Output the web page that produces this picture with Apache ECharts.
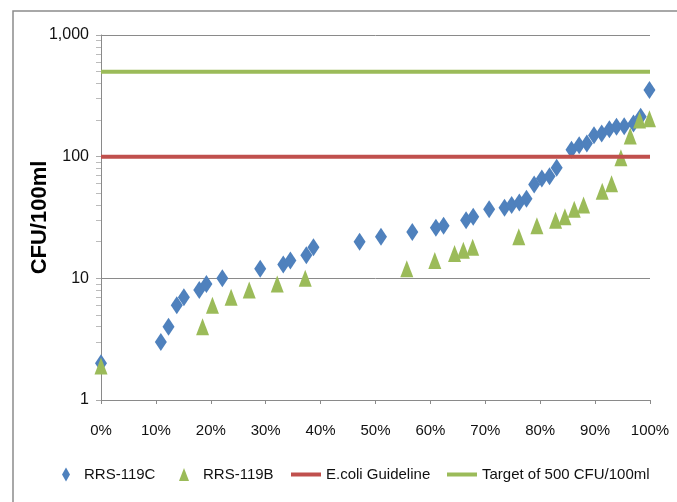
<!DOCTYPE html>
<html><head><meta charset="utf-8">
<script src="https://cdn.jsdelivr.net/npm/echarts@6/dist/echarts.min.js"></script>
<style>html,body{margin:0;padding:0;background:#fff}#c{width:677px;height:502px}</style>
</head><body><div id="c"></div>
<script>
// ---- data ----
const seriesNames = ['RRS-119C', 'RRS-119B', 'E.coli Guideline', 'Target of 500 CFU/100ml'];
const pctC = [0, 10.9, 12.3, 13.8, 15.1, 17.9, 19.2, 22.1, 29.0, 33.2, 34.5, 37.4, 38.7, 47.1, 51.0, 56.7, 61.0, 62.4, 66.5, 67.8, 70.7, 73.5, 74.8, 76.2, 77.5, 78.9, 80.3, 81.7, 83.0, 85.7, 87.1, 88.5, 89.8, 91.2, 92.6, 93.9, 95.3, 97.0, 98.3, 99.9];
const valC = [2, 3, 4, 6, 7, 8, 9, 10, 12, 13, 14, 15.5, 18, 20, 22, 24, 26, 27, 30, 32, 37, 38, 40, 42, 45, 59, 66, 69, 81, 114, 124, 128, 150, 155, 168, 176, 178, 187, 213, 353];
const pctB = [0, 18.5, 20.3, 23.7, 27.0, 32.1, 37.2, 55.7, 60.8, 64.4, 66.0, 67.7, 76.1, 79.4, 82.8, 84.5, 86.2, 87.9, 91.3, 93.0, 94.7, 96.4, 98.1, 99.9];
const valB = [1.9, 4, 6, 7, 8, 9, 10, 12, 14, 16, 17, 18, 22, 27, 30, 32, 37, 40, 52, 60, 98, 148, 200, 205];
const lineX = [0, 100];
const guidelineValue = 100;
const targetValue = 500;
const xTickInterval = 10;
const yMin = 1, yMax = 1000;
const yMinorTicks = [2, 3, 4, 5, 6, 7, 8, 9, 20, 30, 40, 50, 60, 70, 80, 90, 200, 300, 400, 500, 600, 700, 800, 900];

// ---- chart ----
const colors = ['#4F81BD', '#9BBB59', '#C0504D', '#9BBB59'];
const lblFont = "'Liberation Sans', Arial, sans-serif";
const zip = (xs, ys) => xs.map((x, i) => [x, ys[i]]);
const axisGray = '#8a8a8a';

const chart = echarts.init(document.getElementById('c'), null, {renderer: 'canvas'});
const legendBase = {
  orient: 'horizontal', top: 467, padding: 0,
  textStyle: {fontFamily: lblFont, fontSize: 15, color: '#111'},
  selectedMode: false
};
chart.setOption({
  animation: false,
  backgroundColor: '#fff',
  graphic: [{
    type: 'rect', shape: {x: 13, y: 11, width: 700, height: 520},
    style: {fill: 'none', stroke: '#8c8c8c', lineWidth: 1.5}, silent: true, z: -10
  }],
  grid: {left: 101, right: 27, top: 35, bottom: 102},
  legend: [
    Object.assign({}, legendBase, {left: 62, itemWidth: 26, itemHeight: 14, data: [{name: seriesNames[0], icon: 'path://M4,0L8,7L4,14L0,7Z'}]}),
    Object.assign({}, legendBase, {left: 179, itemWidth: 28, itemHeight: 13, data: [{name: seriesNames[1], icon: 'path://M5,0L10,13L0,13Z'}]}),
    Object.assign({}, legendBase, {left: 291, itemWidth: 30, itemHeight: 4, data: [{name: seriesNames[2], icon: 'rect'}]}),
    Object.assign({}, legendBase, {left: 447, itemWidth: 30, itemHeight: 4, data: [{name: seriesNames[3], icon: 'rect'}]})
  ],
  xAxis: {
    type: 'value', min: 0, max: 100, interval: xTickInterval,
    axisLine: {show: true, lineStyle: {color: axisGray, width: 1}},
    axisTick: {show: true, inside: false, length: 4, lineStyle: {color: axisGray}},
    splitLine: {show: false},
    axisLabel: {formatter: '{value}%', margin: 23, fontFamily: lblFont, fontSize: 15, color: '#111'}
  },
  yAxis: [{
    type: 'log', logBase: 10, min: yMin, max: yMax,
    name: 'CFU/100ml', nameLocation: 'middle', nameRotate: 90, nameGap: 50, nameMoveOverlap: false,
    nameTextStyle: {fontFamily: lblFont, fontWeight: 'bold', fontSize: 22, color: '#000'},
    axisLine: {show: true, lineStyle: {color: axisGray, width: 1}},
    axisTick: {show: true, inside: false, length: 5, lineStyle: {color: '#aaa'}},
    splitLine: {show: true, lineStyle: {color: axisGray, width: 1}},
    axisLabel: {margin: 12, fontFamily: lblFont, fontSize: 16, color: '#111',
      formatter: v => Math.round(v).toLocaleString('en-US')}
  }, {
    // helper linear axis in log10 space used only to draw the minor tick marks
    type: 'value', min: Math.log10(yMin), max: Math.log10(yMax), position: 'left',
    axisLine: {show: false}, splitLine: {show: false}, axisLabel: {show: false},
    axisTick: {show: true, inside: false, length: 5, customValues: yMinorTicks.map(Math.log10), lineStyle: {color: '#bbb'}}
  }],
  series: [{
    name: seriesNames[0], type: 'scatter', symbol: 'diamond', symbolSize: [12, 18],
    itemStyle: {color: colors[0], opacity: 1}, data: zip(pctC, valC), z: 2
  }, {
    name: seriesNames[1], type: 'scatter', symbol: 'triangle', symbolSize: [13, 17],
    itemStyle: {color: colors[1], opacity: 1}, data: zip(pctB, valB), z: 2
  }, {
    name: seriesNames[2], type: 'line', symbol: 'none', lineStyle: {color: colors[2], width: 4},
    itemStyle: {color: colors[2]}, data: zip(lineX, lineX.map(() => guidelineValue)), z: 3
  }, {
    name: seriesNames[3], type: 'line', symbol: 'none', lineStyle: {color: colors[3], width: 4},
    itemStyle: {color: colors[3]}, data: zip(lineX, lineX.map(() => targetValue)), z: 3
  }]
});
</script></body></html>
